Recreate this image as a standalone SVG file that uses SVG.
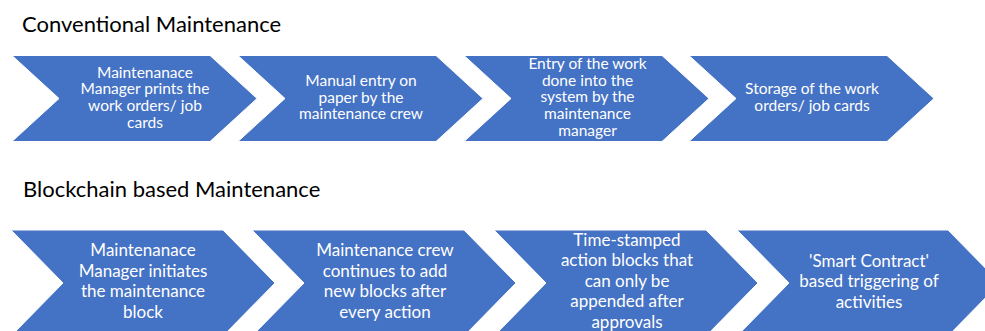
<svg xmlns="http://www.w3.org/2000/svg" width="985" height="331" viewBox="0 0 985 331">
<style>
.chev{fill:#4472C4;stroke:#ffffff;stroke-width:1}
.title{font-family:Lato,"Liberation Sans",sans-serif;font-size:22px;fill:#000}
.t1{font-family:Lato,"Liberation Sans",sans-serif;font-size:15.5px;fill:#fff;text-anchor:middle}
.t2{font-family:Lato,"Liberation Sans",sans-serif;font-size:17px;fill:#fff;text-anchor:middle}
</style>
<rect width="985" height="331" fill="#fff"/>
<text class="title" x="22" y="31.5">Conventional Maintenance</text>
<text class="title" x="23" y="197">Blockchain based Maintenance</text>
<g id="c1">
<polygon class="chev" points="12,55.5 210,55.5 257,98.5 210,141.5 12,141.5 59,98.5"/>
<text class="t1"><tspan x="145" y="77.6">Maintenanace</tspan><tspan x="145" y="94.3">Manager prints the</tspan><tspan x="145" y="111">work orders/ job</tspan><tspan x="145" y="127.7">cards</tspan></text>
</g>
<g id="c2">
<polygon class="chev" points="238,55.5 436,55.5 483,98.5 436,141.5 238,141.5 285,98.5"/>
<text class="t1"><tspan x="361" y="85.8">Manual entry on</tspan><tspan x="361" y="102.5">paper by the</tspan><tspan x="361" y="119.2">maintenance crew</tspan></text>
</g>
<g id="c3">
<polygon class="chev" points="464,55.5 662,55.5 709,98.5 662,141.5 464,141.5 511,98.5"/>
<text class="t1"><tspan x="587.5" y="68.9">Entry of the work</tspan><tspan x="587.5" y="85.6">done into the</tspan><tspan x="587.5" y="102.3">system by the</tspan><tspan x="587.5" y="119">maintenance</tspan><tspan x="587.5" y="135.7">manager</tspan></text>
</g>
<g id="c4">
<polygon class="chev" points="689,55.5 887,55.5 934,98.5 887,141.5 689,141.5 736,98.5"/>
<text class="t1"><tspan x="812" y="94">Storage of the work</tspan><tspan x="812" y="110.7">orders/ job cards</tspan></text>
</g>
<g id="b1">
<polygon class="chev" points="11,230 223,230 275,283 223,336 11,336 63,283"/>
<text class="t2"><tspan x="143" y="256">Maintenanace</tspan><tspan x="143" y="276.5">Manager initiates</tspan><tspan x="143" y="297">the maintenance</tspan><tspan x="143" y="317.5">block</tspan></text>
</g>
<g id="b2">
<polygon class="chev" points="252,230 464,230 516,283 464,336 252,336 304,283"/>
<text class="t2"><tspan x="385" y="256">Maintenance crew</tspan><tspan x="385" y="276.5">continues to add</tspan><tspan x="385" y="297">new blocks after</tspan><tspan x="385" y="317.5">every action</tspan></text>
</g>
<g id="b3">
<polygon class="chev" points="494,230 706,230 758,283 706,336 494,336 546,283"/>
<text class="t2"><tspan x="627" y="245.8">Time-stamped</tspan><tspan x="627" y="266.3">action blocks that</tspan><tspan x="627" y="286.8">can only be</tspan><tspan x="627" y="307.3">appended after</tspan><tspan x="627" y="327.8">approvals</tspan></text>
</g>
<g id="b4">
<polygon class="chev" points="737,230 948,230 1000,283 948,336 737,336 789,283"/>
<text class="t2"><tspan x="869" y="266.8">'Smart Contract'</tspan><tspan x="869" y="287.3">based triggering of</tspan><tspan x="869" y="307.8">activities</tspan></text>
</g>
<g id="connectors"/>
</svg>
